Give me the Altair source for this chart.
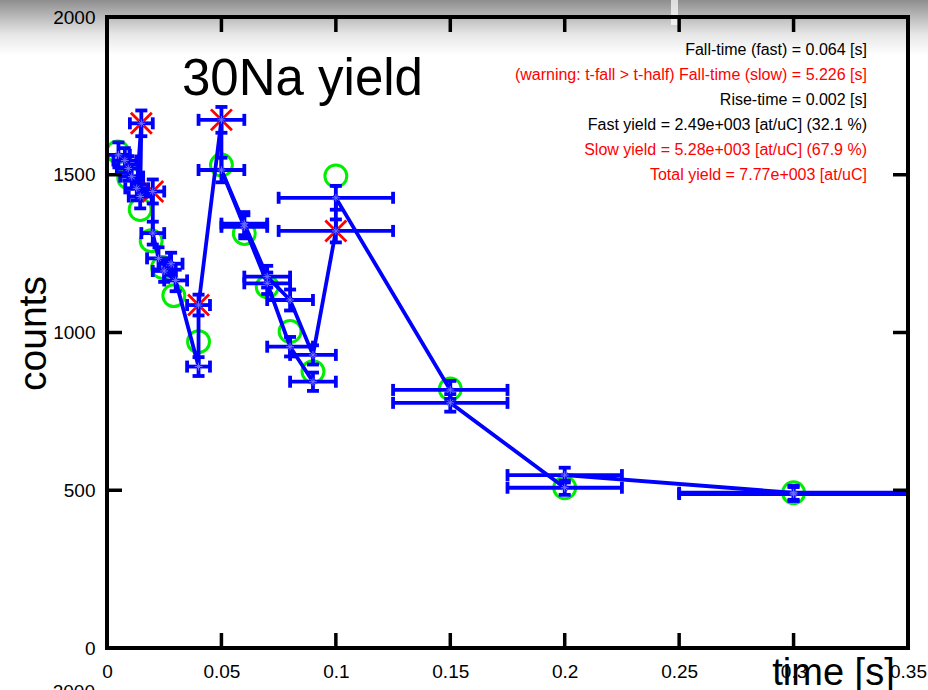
import altair as alt
import numpy as np
import pandas as pd

# ---------------- data ----------------
# measured points (time [s], counts, half bin width [s], flagged point drawn with red x)
PT_T = [0.005, 0.0078, 0.0093, 0.0108, 0.013, 0.015, 0.0145, 0.02, 0.02, 0.0225,
        0.025, 0.028, 0.03, 0.04, 0.04, 0.05, 0.05, 0.06, 0.06, 0.07,
        0.07, 0.08, 0.08, 0.09, 0.09, 0.1, 0.1, 0.15, 0.15, 0.2,
        0.2, 0.3, 0.3]
PT_N = [1563, 1545, 1520, 1494, 1457, 1663, 1431, 1447, 1315, 1235,
        1195, 1218, 1165, 892, 1087, 1674, 1515, 1345, 1335, 1177,
        1156, 1103, 955, 929, 844, 1322, 1427, 818, 777, 508,
        548, 492, 488]
PT_DT = [0.005, 0.005, 0.005, 0.005, 0.005, 0.005, 0.005, 0.005, 0.005, 0.005,
         0.005, 0.005, 0.005, 0.005, 0.005, 0.01, 0.01, 0.01, 0.01, 0.01,
         0.01, 0.01, 0.01, 0.01, 0.01, 0.025, 0.025, 0.025, 0.025, 0.025,
         0.025, 0.05, 0.05]
PT_FLAG = [0, 0, 0, 0, 0, 1, 0, 1, 0, 0,
           0, 0, 0, 0, 1, 1, 0, 0, 0, 0,
           0, 0, 0, 0, 0, 1, 0, 0, 0, 0,
           0, 0, 0]
# order in which the blue polylines join the points (indices into the lists above)
PATH_A = [0, 1, 2, 3, 4, 5, 6, 7, 8, 9, 11, 10, 12, 13, 14, 15, 16, 17, 19, 21, 23,
          25, 26, 27, 28, 29, 30, 31, 32]
PATH_B = [16, 18, 20, 22, 24]

# fitted values (green circles)
FIT_T = [0.0047, 0.0095, 0.0145, 0.0193, 0.0243, 0.0292, 0.04, 0.05, 0.06, 0.07,
         0.08, 0.09, 0.1, 0.15, 0.2, 0.3]
FIT_N = [1572, 1490, 1390, 1291, 1206, 1117, 971, 1531, 1314, 1145,
         1003, 876, 1496, 821, 508, 492]

X_TICKS = [0.05, 0.1, 0.15, 0.2, 0.25, 0.3]
Y_TICKS = [500, 1000, 1500]
X_LABELS = [0, 0.05, 0.1, 0.15, 0.2, 0.25, 0.3, 0.35]
Y_LABELS = [0, 500, 1000, 1500, 2000]

TITLE = "30Na yield"
INFO_LINES = [
    "Fall-time (fast) = 0.064 [s]",
    "(warning: t-fall > t-half) Fall-time (slow) = 5.226 [s]",
    "Rise-time = 0.002 [s]",
    "Fast yield = 2.49e+003 [at/uC] (32.1 %)",
    "Slow yield = 5.28e+003 [at/uC] (67.9 %)",
    "Total yield = 7.77e+003 [at/uC]",
]
INFO_COLORS = ["#000000", "#ff0000", "#000000", "#000000", "#ff0000", "#ff0000"]

# ---------------- build tables ----------------
W, H = 801, 631
BLUE = "#0000ff"
FONT = "Liberation Sans"
LW = 3.8

pts = pd.DataFrame({"t": PT_T, "n": PT_N, "dt": PT_DT, "flag": PT_FLAG})
pts["dn"] = np.sqrt(pts["n"])
pts["tlo"] = pts["t"] - pts["dt"]
pts["thi"] = pts["t"] + pts["dt"]
pts["nlo"] = pts["n"] - pts["dn"]
pts["nhi"] = pts["n"] + pts["dn"]
flagged = pts[pts["flag"] == 1]

rows = []
for name, path in (("A", PATH_A), ("B", PATH_B)):
    for k, i in enumerate(path):
        rows.append({"path": name, "k": k, "t": PT_T[i], "n": PT_N[i]})
line_df = pd.DataFrame(rows)

fit = pd.DataFrame({"t": FIT_T, "n": FIT_N})
xt = pd.DataFrame({"v": X_TICKS})
yt = pd.DataFrame({"v": Y_TICKS})
one = pd.DataFrame({"k": [0]})

xs = alt.Scale(domain=[0, 0.35], nice=False, zero=False)
ys = alt.Scale(domain=[0, 2000], nice=False, zero=False)

X_AX = alt.Axis(values=X_LABELS, labelExpr="format(datum.value, '~g')",
                domain=False, ticks=False, grid=False, labelFont=FONT,
                labelFontSize=19, labelColor="#000000", labelPadding=14,
                labelFlush=False, labelOverlap=False, zindex=1,
                title="time [s]", titleFont=FONT, titleFontSize=38,
                titleFontWeight="normal", titleColor="#000000",
                titleX=726, titleY=36, titleAlign="center",
                titleBaseline="alphabetic")
Y_AX = alt.Axis(values=Y_LABELS, labelExpr="format(datum.value, 'd')",
                domain=False, ticks=False, grid=False,
                labelFont=FONT, labelFontSize=19, labelColor="#000000",
                labelPadding=12, labelFlush=False, labelOverlap=False,
                labelBaseline="middle", zindex=1,
                title="counts", titleFont=FONT, titleFontSize=39,
                titleFontWeight="normal", titleColor="#000000",
                titleX=-62, titleY=316, titleAngle=270, titleAlign="center",
                titleBaseline="alphabetic")

X = alt.X("t:Q", scale=xs, axis=X_AX)
Y = alt.Y("n:Q", scale=ys, axis=Y_AX)

# grey photo band at the top of the slide
band = alt.Chart(one).mark_rect(
    color=alt.LinearGradient(
        gradient="linear",
        stops=[alt.GradientStop(color="#8e8e8e", offset=0),
               alt.GradientStop(color="#b9b9b9", offset=0.3),
               alt.GradientStop(color="#e6e6e6", offset=0.62),
               alt.GradientStop(color="#ffffff", offset=1)],
        x1=0, x2=0, y1=0, y2=1)
).encode(x=alt.value(-107), x2=alt.value(W + 20), y=alt.value(-17), y2=alt.value(38))
stripe = alt.Chart(one).mark_rect(color="#ffffff", opacity=0.7).encode(
    x=alt.value(564), x2=alt.value(571), y=alt.value(-17), y2=alt.value(8))

green = alt.Chart(fit).mark_point(shape="circle", filled=False, stroke="#00ee00",
                                  strokeWidth=3, size=480, opacity=1).encode(x=X, y=Y)
red = alt.Chart(flagged).mark_point(shape="M-1,-1L1,1M-1,1L1,-1", filled=False,
                                    stroke="#ff0000", strokeWidth=2.8, size=440,
                                    opacity=1).encode(x=X, y=Y)

lines = alt.Chart(line_df).mark_line(color=BLUE, strokeWidth=LW).encode(
    x=X, y=Y, detail="path:N", order="k:Q")

hbar = alt.Chart(pts).mark_rule(color=BLUE, strokeWidth=LW).encode(
    x=alt.X("tlo:Q", scale=xs, axis=X_AX), x2="thi:Q", y=Y)
vbar = alt.Chart(pts).mark_rule(color=BLUE, strokeWidth=LW).encode(
    x=X, y=alt.Y("nlo:Q", scale=ys, axis=Y_AX), y2="nhi:Q")
cap_kw = dict(color=BLUE, size=12, thickness=LW, opacity=1)
cap_l = alt.Chart(pts).mark_tick(orient="vertical", **cap_kw).encode(
    x=alt.X("tlo:Q", scale=xs, axis=X_AX), y=Y)
cap_r = alt.Chart(pts).mark_tick(orient="vertical", **cap_kw).encode(
    x=alt.X("thi:Q", scale=xs, axis=X_AX), y=Y)
cap_b = alt.Chart(pts).mark_tick(orient="horizontal", **cap_kw).encode(
    x=X, y=alt.Y("nlo:Q", scale=ys, axis=Y_AX))
cap_t = alt.Chart(pts).mark_tick(orient="horizontal", **cap_kw).encode(
    x=X, y=alt.Y("nhi:Q", scale=ys, axis=Y_AX))
stars = alt.Chart(pts).mark_point(
    shape="M-1,0L1,0M0,-1L0,1M-0.7,-0.7L0.7,0.7M-0.7,0.7L0.7,-0.7",
    filled=False, stroke="#7070ff", strokeWidth=1, size=60, opacity=1).encode(x=X, y=Y)

# inward ticks and frame
XT = alt.X("v:Q", scale=xs, axis=X_AX)
YT = alt.Y("v:Q", scale=ys, axis=Y_AX)
tk_b = alt.Chart(xt).mark_rule(color="#000000", strokeWidth=3.5).encode(
    x=XT, y=alt.value(H), y2=alt.value(H - 15))
tk_t = alt.Chart(xt).mark_rule(color="#000000", strokeWidth=3.5).encode(
    x=XT, y=alt.value(0), y2=alt.value(15))
tk_l = alt.Chart(yt).mark_rule(color="#000000", strokeWidth=3.5).encode(
    y=YT, x=alt.value(0), x2=alt.value(15))
tk_r = alt.Chart(yt).mark_rule(color="#000000", strokeWidth=3.5).encode(
    y=YT, x=alt.value(W - 15), x2=alt.value(W))
fr = dict(color="#000000", strokeWidth=4, strokeCap="square")
f_top = alt.Chart(one).mark_rule(**fr).encode(x=alt.value(0), x2=alt.value(W), y=alt.value(0))
f_bot = alt.Chart(one).mark_rule(**fr).encode(x=alt.value(0), x2=alt.value(W), y=alt.value(H))
f_lef = alt.Chart(one).mark_rule(**fr).encode(x=alt.value(0), y=alt.value(0), y2=alt.value(H))
f_rig = alt.Chart(one).mark_rule(**fr).encode(x=alt.value(W), y=alt.value(0), y2=alt.value(H))

title = alt.Chart(one).mark_text(text=TITLE, font=FONT, fontSize=51, align="left",
                                 baseline="alphabetic", color="#000000").encode(
    x=alt.value(75), y=alt.value(78))
info = []
for i, (txt, col) in enumerate(zip(INFO_LINES, INFO_COLORS)):
    info.append(alt.Chart(one).mark_text(text=txt, font=FONT, fontSize=16,
                                         align="right", baseline="middle",
                                         color=col).encode(
        x=alt.value(760), y=alt.value(33 + 25 * i)))
cut = alt.Chart(one).mark_text(text="2000", font=FONT, fontSize=19, align="right",
                               baseline="top", color="#000000").encode(
    x=alt.value(-12), y=alt.value(666))

chart = alt.layer(
    band, stripe, green, red, lines, hbar, vbar, cap_l, cap_r, cap_b, cap_t, stars,
    tk_b, tk_t, tk_l, tk_r, f_top, f_bot, f_lef, f_rig, title, *info, cut
).properties(
    width=W, height=H, autosize="none",
    padding={"left": 107, "top": 17, "right": 20, "bottom": 42},
    background="#ffffff",
).configure_view(stroke="transparent").configure(font=FONT)

chart.save("out.html", embed_options={"renderer": "svg", "actions": False})
